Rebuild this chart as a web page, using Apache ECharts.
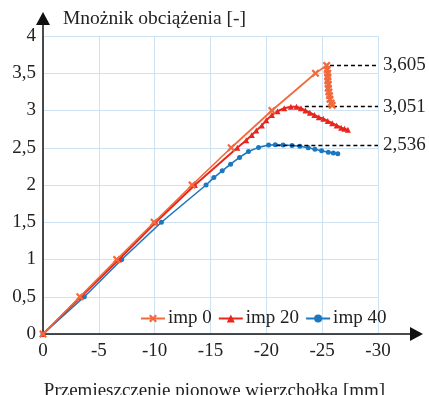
<!DOCTYPE html>
<html>
<head>
<meta charset="utf-8">
<script src="https://cdn.jsdelivr.net/npm/echarts@6/dist/echarts.min.js"></script>
<style>
html,body{margin:0;padding:0;background:#fff;}
#chart{width:429px;height:395px;}
</style>
</head>
<body>
<div id="chart"></div>
<script>
// ---- data ----
var seriesNames = ['imp 0', 'imp 20', 'imp 40'];

var imp0X = [0, -3.3, -6.6, -9.95, -13.35, -16.85, -20.5, -24.4, -25.4, -25.45, -25.5, -25.5, -25.5, -25.55, -25.55, -25.6, -25.65, -25.7, -25.8, -25.9];
var imp0Y = [0, 0.5, 1.0, 1.5, 2.0, 2.5, 3.0, 3.5, 3.605, 3.55, 3.5, 3.45, 3.4, 3.35, 3.3, 3.25, 3.2, 3.15, 3.1, 3.07];

var imp20X = [0, -3.4, -6.8, -10.1, -13.6, -17.4, -18.2, -18.7, -19.1, -19.6, -20.0, -20.5, -21.0, -21.6, -22.2, -22.7, -23.1, -23.5, -23.9, -24.3, -24.7, -25.1, -25.5, -25.9, -26.3, -26.7, -27.0, -27.3];
var imp20Y = [0, 0.5, 1.0, 1.5, 2.0, 2.5, 2.6, 2.67, 2.73, 2.8, 2.87, 2.94, 2.99, 3.03, 3.051, 3.05, 3.03, 3.0, 2.97, 2.94, 2.91, 2.89, 2.86, 2.83, 2.8, 2.77, 2.755, 2.74];

var imp40X = [0, -3.7, -7.05, -10.6, -14.6, -15.3, -16.05, -16.8, -17.6, -18.4, -19.3, -20.2, -20.8, -21.5, -22.3, -23.0, -23.75, -24.35, -24.95, -25.55, -26.0, -26.4];
var imp40Y = [0, 0.5, 1.0, 1.5, 2.0, 2.1, 2.19, 2.28, 2.37, 2.45, 2.505, 2.536, 2.54, 2.537, 2.53, 2.52, 2.5, 2.48, 2.46, 2.44, 2.43, 2.42];

var peakValues = [3.605, 3.051, 2.536];
var peakStartX = [-25.7, -23.45, -20.9];
var peakEndX = -30;

var xTicks = [0, -5, -10, -15, -20, -25, -30];
var yTicks = [0, 0.5, 1, 1.5, 2, 2.5, 3, 3.5, 4];

var yTitle = 'Mnożnik obciążenia [-]';
var xTitle = 'Przemieszczenie pionowe wierzchołka [mm]';

// ---- build ----
function pairs(xs, ys) { return xs.map(function (x, i) { return [x, ys[i]]; }); }
function comma(v) { return String(v).replace('.', ','); }

var FONT = 'Liberation Serif';
var colors = ['#f26a3c', '#e8261e', '#1b78c0'];
var crossPath = 'path://M2,0L5,3L8,0L10,2L7,5L10,8L8,10L5,7L2,10L0,8L3,5L0,2Z';
var symbols = [crossPath, 'triangle', 'circle'];
var symbolSizes = [8, 6, 5];
var lineWidths = [1.7, 2, 1.6];
var dataSets = [pairs(imp0X, imp0Y), pairs(imp20X, imp20Y), pairs(imp40X, imp40Y)];

var series = seriesNames.map(function (name, i) {
  return {
    name: name,
    type: 'line',
    xAxisIndex: 0,
    yAxisIndex: 0,
    data: dataSets[i],
    symbol: symbols[i],
    symbolSize: symbolSizes[i],
    showAllSymbol: true,
    clip: false,
    z: 3 - i + 2,
    lineStyle: { color: colors[i], width: lineWidths[i] },
    itemStyle: { color: colors[i] },
    markLine: {
      silent: true,
      symbol: ['none', 'none'],
      lineStyle: { color: '#000', type: [4, 3], width: 1.3 },
      label: {
        show: true,
        position: 'end',
        distance: 5,
        color: '#222',
        fontFamily: FONT,
        fontSize: 19,
        formatter: function () { return comma(peakValues[i]); }
      },
      data: [[{ coord: [peakStartX[i], peakValues[i]] }, { coord: [peakEndX, peakValues[i]] }]]
    }
  };
});

var chart = echarts.init(document.getElementById('chart'), null, { renderer: 'canvas' });
chart.setOption({
  animation: false,
  backgroundColor: '#fff',
  title: [
    { text: yTitle, left: 58, top: 4, textStyle: { fontFamily: FONT, fontSize: 19.5, fontWeight: 'normal', color: '#222' } },
    { text: xTitle, left: 'center', top: 377, textStyle: { fontFamily: FONT, fontSize: 19, fontWeight: 'normal', color: '#222' } }
  ],
  legend: {
    data: seriesNames,
    left: 135,
    top: 304,
    itemWidth: 24,
    itemHeight: 10,
    itemGap: 6,
    textStyle: { fontFamily: FONT, fontSize: 19, color: '#222', padding: [0, 0, 0, -2] }
  },
  grid: [
    { left: 43, right: 51, top: 36, bottom: 61, containLabel: false },
    { left: 43, right: 12.5, top: 18.5, bottom: 61, containLabel: false }
  ],
  xAxis: [
    {
      gridIndex: 0, type: 'value', min: -30, max: 0, interval: 5, inverse: true,
      axisLine: { show: false }, axisTick: { show: false },
      axisLabel: { fontFamily: FONT, fontSize: 19, color: '#222', margin: 8, formatter: function (v) { return String(v); } },
      splitLine: { show: true, lineStyle: { color: '#cfe2f2', width: 1 } }
    },
    {
      gridIndex: 1, type: 'value', min: 0, max: 1,
      axisLine: { show: true, onZero: false, symbol: ['none', 'triangle'], symbolSize: [14, 13], lineStyle: { color: '#111', width: 1.5 } },
      axisTick: { show: false }, axisLabel: { show: false }, splitLine: { show: false }
    }
  ],
  yAxis: [
    {
      gridIndex: 0, type: 'value', min: 0, max: 4, interval: 0.5,
      axisLine: { show: false }, axisTick: { show: false },
      axisLabel: { fontFamily: FONT, fontSize: 19, color: '#222', margin: 7, formatter: function (v) { return comma(v); } },
      splitLine: { show: true, lineStyle: { color: '#cfe2f2', width: 1 } }
    },
    {
      gridIndex: 1, type: 'value', min: 0, max: 1,
      axisLine: { show: true, onZero: false, symbol: ['none', 'triangle'], symbolSize: [14, 13], lineStyle: { color: '#111', width: 1.5 } },
      axisTick: { show: false }, axisLabel: { show: false }, splitLine: { show: false }
    }
  ],
  series: series
});
</script>
</body>
</html>
